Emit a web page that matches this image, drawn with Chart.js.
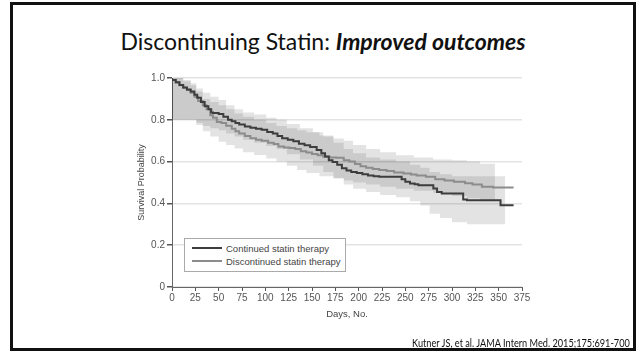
<!DOCTYPE html>
<html>
<head>
<meta charset="utf-8">
<script src="https://cdn.jsdelivr.net/npm/chart.js@4.4.1/dist/chart.umd.min.js"></script>
<style>
    body { margin: 0; width: 639px; height: 354px; position: relative; background: #fff; overflow: hidden; }
    .moldura { position: absolute; left: 10px; top: 2px; width: 626px; height: 349px; box-sizing: border-box; border: 3px solid #111; }
    .titulo { position: absolute; left: 10px; width: 626px; top: 27px; text-align: center; font-family: Lato, 'Liberation Sans', sans-serif; font-size: 23px; color: #111; }
    .citacao { position: absolute; right: 9px; top: 336px; font-family: Lato, 'Liberation Sans', sans-serif; font-size: 11px; color: #111; transform: scaleX(0.835); transform-origin: right center; white-space: nowrap; }
    canvas#graficoSobrevida { position: absolute; left: 0; top: 0; }
    .legenda { position: absolute; left: 184px; top: 238px; width: 162px; height: 34px; box-sizing: border-box; border: 1px solid #aaa; background: #fff; font-family: 'Liberation Sans', Arial, sans-serif; font-size: 9.5px; color: #444; }
    .legenda div { position: absolute; left: 7px; height: 12px; line-height: 12px; white-space: nowrap; }
    .legenda span { display: inline-block; width: 30px; height: 2px; vertical-align: middle; margin-right: 4px; margin-top: -2px; }
</style>
</head>
<body>
<div class="moldura"></div>
<div class="titulo">Discontinuing Statin: <b><i>Improved outcomes</i></b></div>
<canvas id="graficoSobrevida" width="639" height="354"></canvas>
<div class="legenda">
    <div style="top:4px"><span style="background:#3d3d3d"></span>Continued statin therapy</div>
    <div style="top:17px"><span style="background:#8c8c8c"></span>Discontinued statin therapy</div>
</div>
<div class="citacao">Kutner JS, et al. JAMA Intern Med. 2015;175:691-700</div>

<script>
// curva de Kaplan-Meier - terapia continuada
var diasContinuado = [0, 4, 8, 12, 16, 20, 24, 27, 31, 35, 39, 42, 44, 50, 55, 60, 64, 68, 72, 78, 84, 90, 96, 102, 108, 113, 118, 124, 130, 136, 142, 148, 155, 160, 164, 168, 172, 177, 182, 187, 192, 198, 204, 210, 216, 222, 246, 250, 255, 260, 264, 280, 284, 289, 292, 312, 316, 352, 357, 366];
var sobrevidaContinuado = [1.0, 0.99, 0.98, 0.967, 0.955, 0.945, 0.935, 0.92, 0.905, 0.885, 0.865, 0.85, 0.835, 0.832, 0.828, 0.815, 0.80, 0.793, 0.785, 0.778, 0.768, 0.762, 0.757, 0.752, 0.742, 0.735, 0.722, 0.712, 0.705, 0.697, 0.685, 0.678, 0.67, 0.655, 0.64, 0.625, 0.607, 0.598, 0.585, 0.568, 0.558, 0.55, 0.545, 0.54, 0.533, 0.53, 0.527, 0.515, 0.503, 0.495, 0.492, 0.487, 0.471, 0.455, 0.447, 0.447, 0.419, 0.415, 0.391, 0.391];

// curva de Kaplan-Meier - terapia descontinuada
var diasDescontinuado = [0, 4, 8, 12, 16, 20, 24, 28, 33, 37, 41, 44, 48, 53, 58, 64, 68, 72, 78, 84, 90, 96, 103, 109, 114, 120, 126, 132, 138, 144, 150, 156, 162, 169, 176, 184, 190, 196, 202, 208, 215, 222, 230, 238, 248, 256, 262, 272, 282, 292, 302, 314, 322, 332, 344, 348, 366];
var sobrevidaDescontinuado = [1.0, 0.99, 0.978, 0.965, 0.953, 0.942, 0.93, 0.91, 0.89, 0.87, 0.85, 0.822, 0.81, 0.79, 0.785, 0.772, 0.757, 0.745, 0.735, 0.723, 0.712, 0.705, 0.70, 0.69, 0.684, 0.672, 0.668, 0.665, 0.66, 0.65, 0.643, 0.636, 0.63, 0.623, 0.62, 0.618, 0.607, 0.60, 0.588, 0.578, 0.57, 0.565, 0.56, 0.555, 0.548, 0.543, 0.538, 0.533, 0.527, 0.515, 0.51, 0.503, 0.497, 0.49, 0.48, 0.476, 0.476];

// intervalo de confianca - continuada
var diasBandaContinuado = [0, 12, 20, 26, 33, 41, 50, 58, 67, 76, 88, 101, 112, 123, 137, 151, 162, 173, 184, 194, 208, 223, 240, 255, 266, 276, 287, 300, 316, 357];
var superiorContinuado = [1.0, 1.0, 0.99, 0.975, 0.95, 0.93, 0.91, 0.895, 0.87, 0.85, 0.835, 0.825, 0.81, 0.80, 0.78, 0.76, 0.74, 0.72, 0.69, 0.66, 0.64, 0.62, 0.61, 0.60, 0.585, 0.57, 0.55, 0.54, 0.53, 0.53];
var inferiorContinuado = [0.80, 0.80, 0.80, 0.80, 0.785, 0.77, 0.76, 0.75, 0.735, 0.72, 0.705, 0.69, 0.675, 0.66, 0.635, 0.61, 0.58, 0.55, 0.52, 0.49, 0.47, 0.455, 0.44, 0.43, 0.41, 0.39, 0.35, 0.33, 0.31, 0.30];

// intervalo de confianca - descontinuada
var diasBandaDescontinuado = [0, 12, 20, 26, 33, 41, 50, 58, 67, 76, 88, 101, 112, 123, 134, 144, 158, 173, 184, 194, 208, 223, 240, 259, 280, 300, 316, 330, 346];
var superiorDescontinuado = [1.0, 1.0, 0.985, 0.965, 0.935, 0.90, 0.885, 0.87, 0.85, 0.83, 0.815, 0.80, 0.785, 0.77, 0.76, 0.75, 0.74, 0.725, 0.71, 0.70, 0.68, 0.66, 0.645, 0.63, 0.62, 0.61, 0.607, 0.60, 0.59];
var inferiorDescontinuado = [0.80, 0.80, 0.80, 0.80, 0.775, 0.745, 0.72, 0.695, 0.68, 0.663, 0.645, 0.631, 0.615, 0.60, 0.58, 0.56, 0.545, 0.53, 0.52, 0.51, 0.50, 0.49, 0.48, 0.47, 0.46, 0.45, 0.435, 0.425, 0.41];

var ticksDias = [0, 25, 50, 75, 100, 125, 150, 175, 200, 225, 250, 275, 300, 325, 350, 375];
var ticksSobrevida = [0, 0.2, 0.4, 0.6, 0.8, 1.0];

var fonteEixo = "'Liberation Sans', Arial, sans-serif";

function PegarPontos(dias, valores) {
    var pontos = [];
    for (var i = 0; i < dias.length; i++) {
        pontos.push({ x: dias[i], y: valores[i] });
    }
    return pontos;
}

function Linha(dias, valores, cor) {
    return {
        data: PegarPontos(dias, valores),
        borderColor: cor,
        borderWidth: 2,
        stepped: 'after',
        fill: false,
        order: 0
    };
}

function Banda(dias, valores, preencher) {
    return {
        data: PegarPontos(dias, valores),
        borderColor: 'transparent',
        borderWidth: 0,
        backgroundColor: 'rgba(0,0,0,0.11)',
        stepped: 'after',
        fill: preencher,
        order: 1
    };
}

var ctx = document.getElementById('graficoSobrevida').getContext('2d');

var grafico = new Chart(ctx, {
    type: 'line',
    data: {
        datasets: [
            Linha(diasContinuado, sobrevidaContinuado, '#3d3d3d'),
            Linha(diasDescontinuado, sobrevidaDescontinuado, '#8c8c8c'),
            Banda(diasBandaContinuado, superiorContinuado, '+1'),
            Banda(diasBandaContinuado, inferiorContinuado, false),
            Banda(diasBandaDescontinuado, superiorDescontinuado, '+1'),
            Banda(diasBandaDescontinuado, inferiorDescontinuado, false)
        ]
    },
    options: {
        responsive: false,
        animation: false,
        layout: { padding: { left: 128, top: 78, right: 117, bottom: 26 } },
        elements: { point: { radius: 0 } },
        plugins: {
            legend: { display: false },
            tooltip: { enabled: false }
        },
        scales: {
            x: {
                type: 'linear',
                min: 0,
                max: 375,
                afterBuildTicks: function (escala) {
                    escala.ticks = ticksDias.map(function (v) { return { value: v }; });
                },
                ticks: { color: '#555', font: { family: fonteEixo, size: 10 }, padding: 1, maxRotation: 0, autoSkip: false },
                grid: { drawOnChartArea: false, tickLength: 4, tickColor: '#555' },
                border: { color: '#666', width: 1 },
                title: { display: true, text: 'Days, No.', color: '#444', font: { family: fonteEixo, size: 9.5 }, padding: { top: 0, bottom: 8 } },
                afterFit: function (escala) { escala.height = 41; }
            },
            y: {
                min: 0,
                max: 1,
                afterBuildTicks: function (escala) {
                    escala.ticks = ticksSobrevida.map(function (v) { return { value: v }; });
                },
                ticks: {
                    color: '#555',
                    font: { family: fonteEixo, size: 10 },
                    padding: 2,
                    callback: function (v) { return v === 0 ? '0' : v.toFixed(1); }
                },
                grid: { color: '#e3e3e3', lineWidth: 1.5, tickLength: 5, tickColor: '#555' },
                border: { color: '#666', width: 1 },
                title: { display: true, text: 'Survival Probability', color: '#444', font: { family: fonteEixo, size: 9 }, padding: { top: 8, bottom: 0 } },
                afterFit: function (escala) { escala.width = 44; }
            }
        }
    }
});
</script>
</body>
</html>
